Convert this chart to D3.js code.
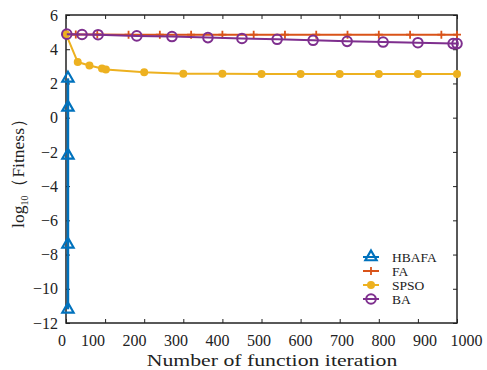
<!DOCTYPE html>
<html><head><meta charset="utf-8">
<script src="https://cdn.jsdelivr.net/npm/d3@7"></script>
<style>body{margin:0;background:#fff}svg{display:block}</style>
</head><body>
<script>
const xTicks = [0,100,200,300,400,500,600,700,800,900,1000];
const yTicks = [-12,-10,-8,-6,-4,-2,0,2,4,6];
const seriesNames = ["HBAFA","FA","SPSO","BA"];
const colors = ["#0072BD","#D95319","#EDB120","#7E2F8E"];
const hbafaX = [5,5,5,5,5];
const hbafaY = [2.3,0.6,-2.2,-7.4,-11.2];
const faX = [0,25,80,160,240,320,400,480,560,640,720,800,880,960,1000];
const faY = [4.88,4.86,4.86,4.85,4.85,4.85,4.85,4.85,4.85,4.85,4.85,4.85,4.85,4.85,4.85];
const spsoX = [0,30,60,92,102,200,300,400,500,600,700,800,900,1000];
const spsoY = [4.88,3.25,3.05,2.87,2.82,2.65,2.57,2.56,2.55,2.55,2.55,2.55,2.55,2.55];
const baX = [2,41,82,181,271,363,450,540,632,719,811,900,990,1000];
const baY = [4.88,4.86,4.85,4.78,4.74,4.68,4.63,4.58,4.52,4.46,4.42,4.38,4.33,4.33];

const W=487,H=370, L=66, R=457, T=15, B=323;
const serif="'Liberation Serif','Times New Roman',serif";
const svg=d3.select("body").append("svg").attr("width",W).attr("height",H)
  .style("font-family",serif);
const x=d3.scaleLinear().domain([0,1000]).range([L,R]);
const y=d3.scaleLinear().domain([-12,6]).range([B,T]);
// tick labels in the reference are spread slightly wider than the ticks
const xLab=d3.scaleLinear().domain([0,100,1000]).range([61.5,92.5,466]);

const fs=16;
const ax=svg.append("g").attr("transform",`translate(0,${B})`)
  .call(d3.axisBottom(x).tickValues(xTicks).tickSize(-4).tickPadding(8).tickFormat(d3.format("d")));
ax.selectAll(".tick text").attr("x",d=>xLab(d)-x(d)).attr("dy","0.75em").attr("y",11);
const ay=svg.append("g").attr("transform",`translate(${L},0)`)
  .call(d3.axisLeft(y).tickValues(yTicks).tickSize(-4).tickPadding(8).tickFormat(d=>d<0?"\u2212"+Math.abs(d):d));
const at=svg.append("g").attr("transform",`translate(0,${T})`)
  .call(d3.axisTop(x).tickValues(xTicks).tickSize(-4).tickFormat(""));
const ar=svg.append("g").attr("transform",`translate(${R},0)`)
  .call(d3.axisRight(y).tickValues(yTicks).tickSize(-4).tickFormat(""));
[ax,ay,at,ar].forEach(g=>{
  g.attr("font-family",null);
  g.select(".domain").remove();
  g.selectAll("line").attr("stroke","#222").attr("stroke-width",1);
  g.selectAll("text").attr("font-size",fs).attr("fill","#222").style("font-family",serif);
});
svg.append("rect").attr("x",L).attr("y",T).attr("width",R-L).attr("height",B-T)
  .attr("fill","none").attr("stroke","#222").attr("stroke-width",1.5);

const line=d3.line().x(d=>x(d[0])).y(d=>y(d[1]));
const data=[d3.zip(hbafaX,hbafaY),d3.zip(faX,faY),d3.zip(spsoX,spsoY),d3.zip(baX,baY)];
const widths=[2.5,2,2,2];
const plot=svg.append("g");
function marker(g,i,px,py){
  const c=colors[i];
  if(i===0){
    g.append("path").attr("d",d3.symbol(d3.symbolTriangle,55)()).attr("transform",`translate(${px},${py})`)
     .attr("fill","none").attr("stroke",c).attr("stroke-width",2.2);
  } else if(i===1){
    g.append("path").attr("d",`M${px-4},${py}H${px+4}M${px},${py-4}V${py+4}`).attr("stroke",c).attr("stroke-width",1.8);
  } else if(i===2){
    g.append("circle").attr("cx",px).attr("cy",py).attr("r",4).attr("fill",c);
  } else {
    g.append("circle").attr("cx",px).attr("cy",py).attr("r",4.8).attr("fill","none").attr("stroke",c).attr("stroke-width",2);
  }
}
[1,2,3,0].forEach(i=>{
  const g=plot.append("g");
  g.append("path").datum(data[i]).attr("d",line).attr("fill","none").attr("stroke",colors[i]).attr("stroke-width",widths[i]);
  data[i].forEach(d=>marker(g,i,x(d[0]),y(d[1])));
});

// legend
const lg=svg.append("g");
const ly=[257,271,285,299];
seriesNames.forEach((n,i)=>{
  lg.append("line").attr("x1",363).attr("x2",379).attr("y1",ly[i]).attr("y2",ly[i]).attr("stroke",colors[i]).attr("stroke-width",2);
  marker(lg,i,371,ly[i]);
  lg.append("text").attr("x",392).attr("y",ly[i]+4.5).attr("font-size",13.5).attr("fill","#222").text(n);
});

// labels
svg.append("text").attr("transform","translate(272,366) scale(1.28,1)").attr("text-anchor","middle").attr("font-size",17).attr("fill","#222")
  .text("Number of function iteration");
const yl=svg.append("text").attr("transform",`translate(24,${(T+B)/2}) rotate(-90)`).attr("text-anchor","middle").attr("font-size",17.5).attr("fill","#222");
yl.append("tspan").text("log");
yl.append("tspan").attr("font-size",10).attr("dy",4).text("10");
yl.append("tspan").attr("dy",-4).text("（Fitness）");
</script>
</body></html>
